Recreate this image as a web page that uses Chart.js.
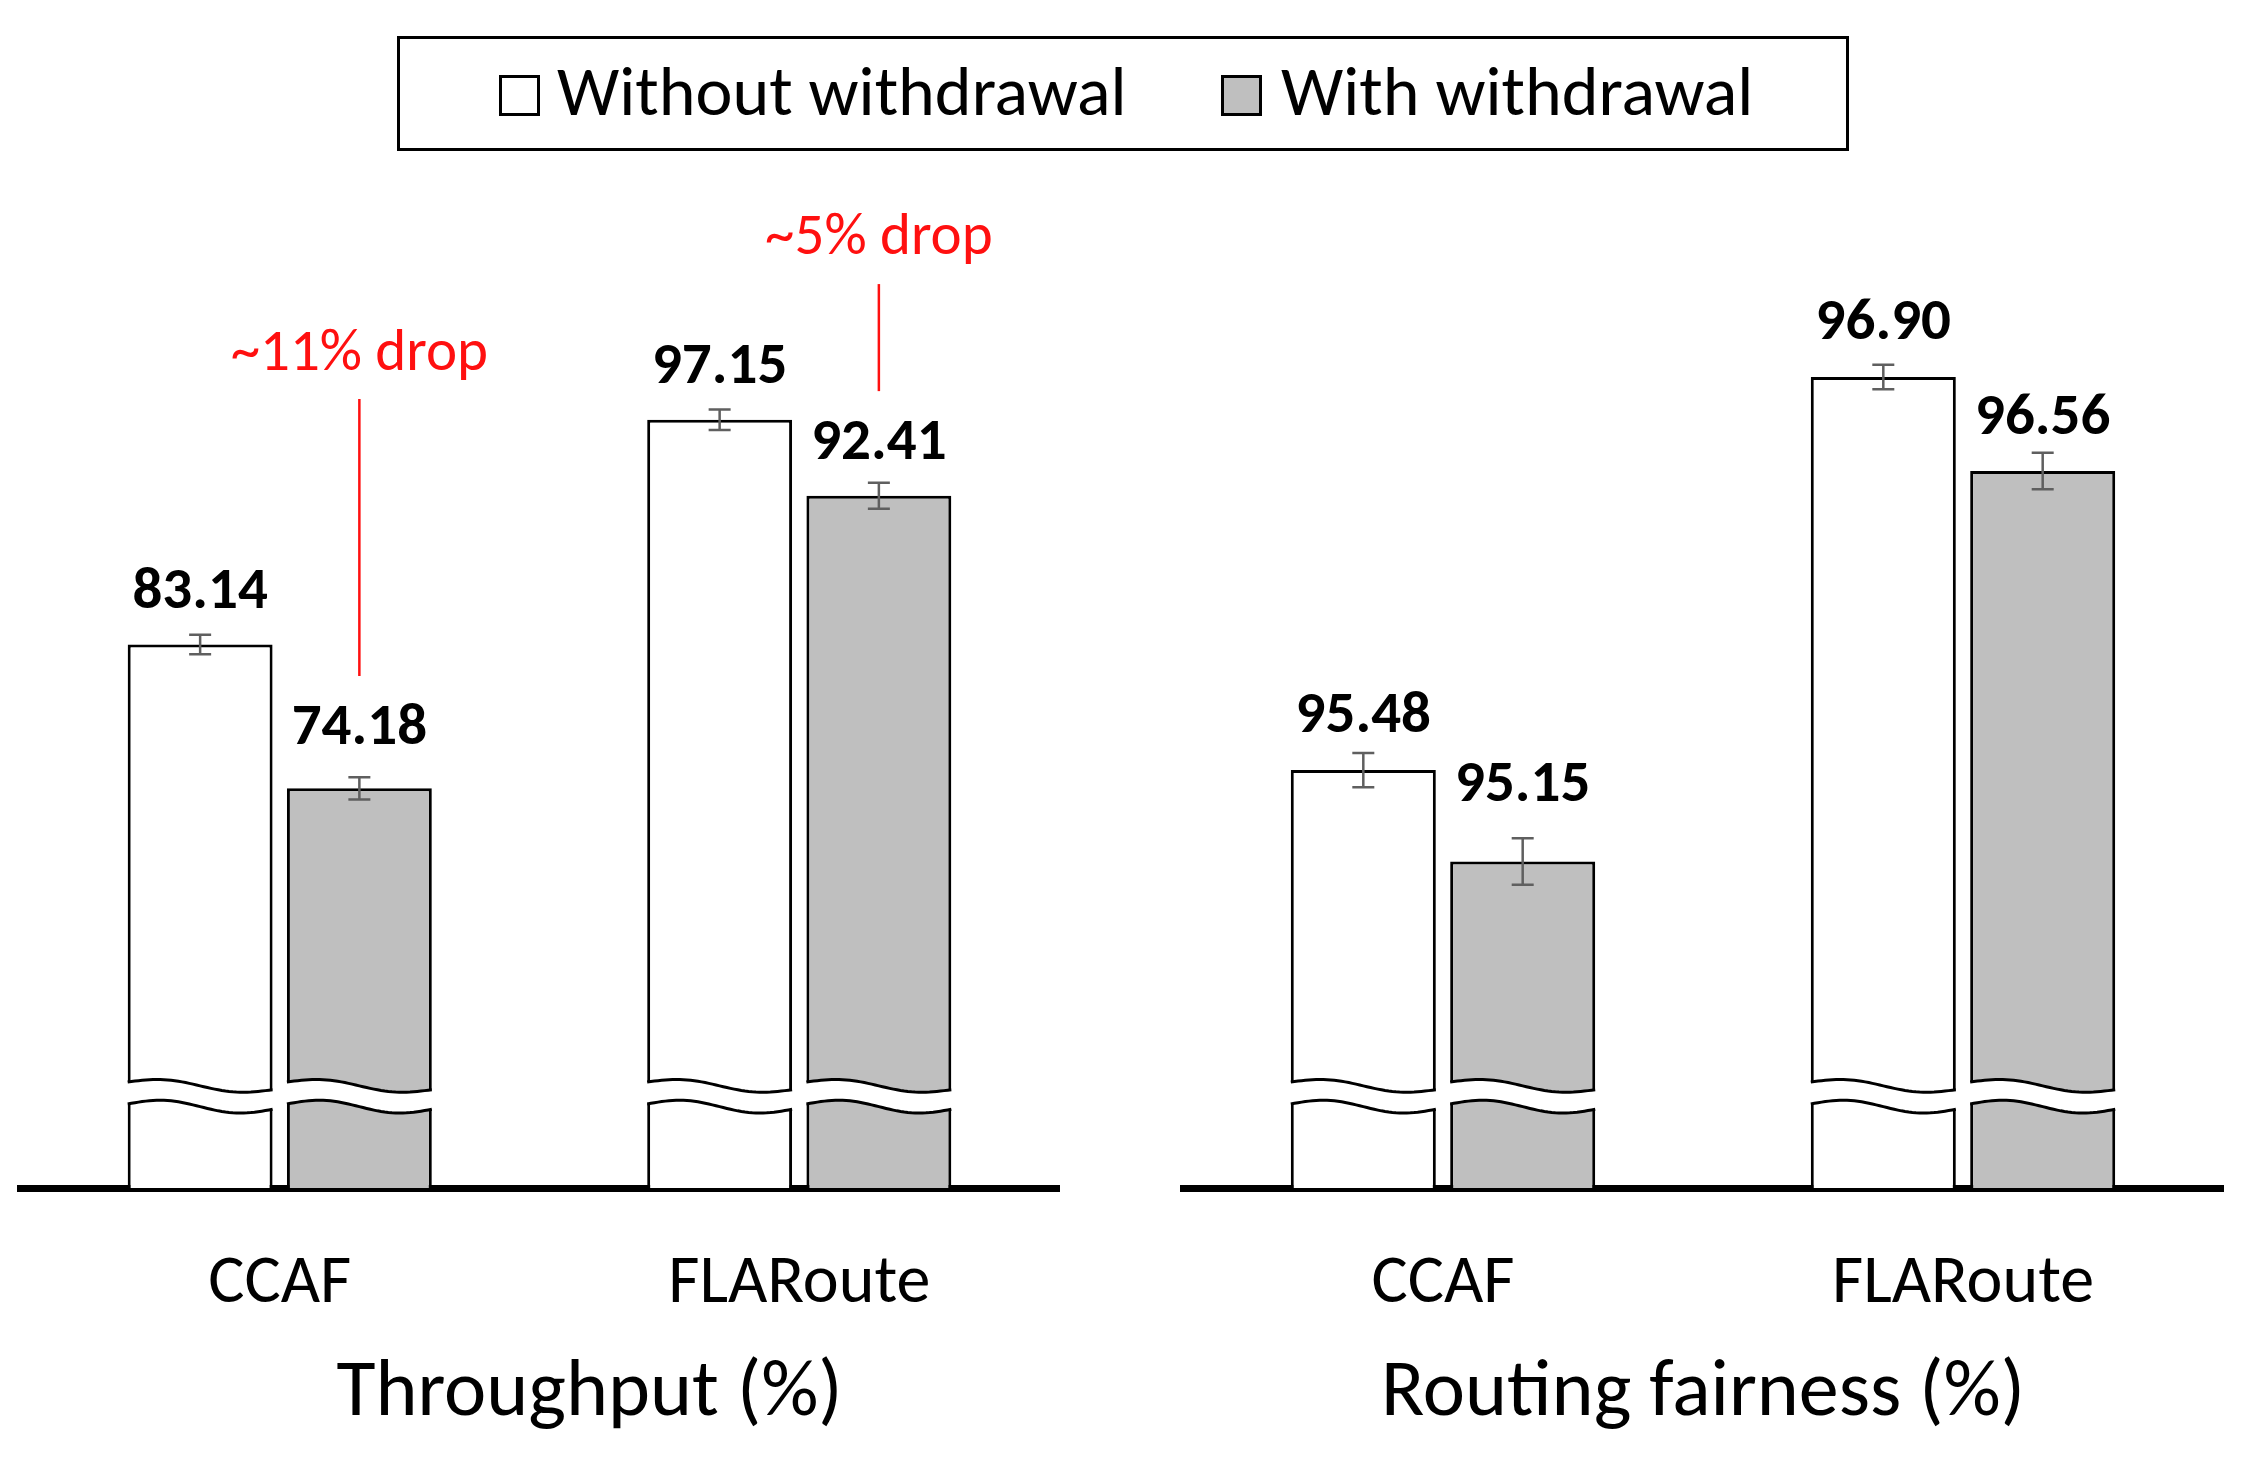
<!DOCTYPE html>
<html>
<head>
<meta charset="utf-8">
<script src="https://cdn.jsdelivr.net/npm/chart.js@4.4.1/dist/chart.umd.min.js"></script>
<style>
  html, body { margin: 0; padding: 0; background: #fff; }
  body { width: 2252px; height: 1458px; position: relative; overflow: hidden; font-family: Carlito, Lato, sans-serif; }
  canvas { position: absolute; top: 0; }
  #left { left: 0; }
  #right { left: 1126px; }
  #legend { position: absolute; left: 397px; top: 36px; width: 1446px; height: 109px; border: 3px solid #000; }
  #legend .key { position: absolute; top: 36px; width: 41px; height: 41px; box-sizing: border-box; border: 3px solid #000; }
  #legend .lbl { position: absolute; top: -2px; line-height: 109px; font-size: 70px; color: #000; white-space: nowrap; }
</style>
</head>
<body>
<canvas id="left" width="1126" height="1458"></canvas>
<canvas id="right" width="1126" height="1458"></canvas>
<div id="legend"></div>
<script>
// data
const categories = ['CCAF', 'FLARoute']
const seriesNames = ['Without withdrawal', 'With withdrawal']

const throughputWithout = [83.14, 97.15]
const throughputWith = [74.18, 92.41]
const throughputErrWithout = [0.61, 0.64]
const throughputErrWith = [0.70, 0.81]

const fairnessWithout = [95.48, 96.90]
const fairnessWith = [95.15, 96.56]
const fairnessErrWithout = [0.062, 0.044]
const fairnessErrWith = [0.084, 0.066]

const panelTitles = ['Throughput (%)', 'Routing fairness (%)']

const FONT = 'Carlito, Lato, sans-serif'
const fills = ['#ffffff', '#bfbfbf']
const red = '#ff1010'

Chart.defaults.font.family = FONT
Chart.defaults.color = '#000'

// legend (html)
const legendEl = document.getElementById('legend')
const legendSpots = [[99, 157], [821, 881]]
seriesNames.forEach((name, i) => {
    const key = document.createElement('span')
    key.className = 'key'
    key.style.left = legendSpots[i][0] + 'px'
    key.style.background = fills[i]
    legendEl.appendChild(key)
    const lbl = document.createElement('span')
    lbl.className = 'lbl'
    lbl.style.left = legendSpots[i][1] + 'px'
    lbl.textContent = name
    legendEl.appendChild(lbl)
})

// white wavy gap across every bar, near the axis
const brokenBars = {
    id: 'brokenBars',
    afterDatasetsDraw(chart) {
        const ctx = chart.ctx
        const base = chart.chartArea.bottom
        chart.data.datasets.forEach((ds, di) => {
            chart.getDatasetMeta(di).data.forEach(bar => {
                const p = bar.getProps(['x', 'width'], true)
                const l = p.x - p.width / 2
                const r = p.x + p.width / 2
                const upper = t => base - 106 + 7.7 * t - 4.25 * Math.sin(2 * Math.PI * t)
                const lower = t => base - 84 + 5.3 * t - 5 * Math.sin(2 * Math.PI * t)
                const n = 40
                ctx.save()
                ctx.beginPath()
                ctx.moveTo(l - 2, upper(0))
                for (let i = 0; i <= n; i++) ctx.lineTo(l + (r - l) * i / n, upper(i / n))
                ctx.lineTo(r + 2, upper(1))
                ctx.lineTo(r + 2, lower(1))
                for (let i = n; i >= 0; i--) ctx.lineTo(l + (r - l) * i / n, lower(i / n))
                ctx.lineTo(l - 2, lower(0))
                ctx.closePath()
                ctx.fillStyle = '#fff'
                ctx.fill()
                ctx.strokeStyle = '#000'
                ctx.lineWidth = 3
                for (const curve of [upper, lower]) {
                    ctx.beginPath()
                    ctx.moveTo(l, curve(0))
                    for (let i = 1; i <= n; i++) ctx.lineTo(l + (r - l) * i / n, curve(i / n))
                    ctx.stroke()
                }
                ctx.restore()
            })
        })
    }
}

const errorBars = {
    id: 'errorBars',
    afterDatasetsDraw(chart) {
        const ctx = chart.ctx
        const yScale = chart.scales.y
        chart.data.datasets.forEach((ds, di) => {
            chart.getDatasetMeta(di).data.forEach((bar, i) => {
                const v = ds.data[i], e = ds.errors[i]
                const y1 = yScale.getPixelForValue(v + e)
                const y2 = yScale.getPixelForValue(v - e)
                ctx.save()
                ctx.strokeStyle = '#5f5f5f'
                ctx.lineWidth = 2.5
                ctx.beginPath()
                ctx.moveTo(bar.x, y1); ctx.lineTo(bar.x, y2)
                ctx.moveTo(bar.x - 11, y1); ctx.lineTo(bar.x + 11, y1)
                ctx.moveTo(bar.x - 11, y2); ctx.lineTo(bar.x + 11, y2)
                ctx.stroke()
                ctx.restore()
            })
        })
    }
}

const valueLabels = {
    id: 'valueLabels',
    afterDatasetsDraw(chart, args, opts) {
        const ctx = chart.ctx
        ctx.save()
        ctx.font = 'bold 59px ' + FONT
        ctx.fillStyle = '#000'
        ctx.textAlign = 'center'
        ctx.textBaseline = 'alphabetic'
        chart.data.datasets.forEach((ds, di) => {
            chart.getDatasetMeta(di).data.forEach((bar, i) => {
                ctx.fillText(ds.data[i].toFixed(2), bar.x, bar.y - opts.lift[di][i])
            })
        })
        ctx.restore()
    }
}

const dropNotes = {
    id: 'dropNotes',
    afterDatasetsDraw(chart, args, opts) {
        const ctx = chart.ctx
        const yScale = chart.scales.y
        ctx.save()
        ctx.strokeStyle = red
        ctx.fillStyle = red
        ctx.lineWidth = 2.5
        ctx.font = '59px ' + FONT
        ctx.textAlign = 'center'
        opts.notes.forEach(n => {
            const bar = chart.getDatasetMeta(n.dataset).data[n.index]
            ctx.beginPath()
            ctx.moveTo(bar.x, yScale.getPixelForValue(n.lineFrom))
            ctx.lineTo(bar.x, yScale.getPixelForValue(n.lineTo))
            ctx.stroke()
            ctx.fillText(n.text, bar.x, yScale.getPixelForValue(n.textAt))
        })
        ctx.restore()
    }
}

const panelTitle = {
    id: 'panelTitle',
    afterDraw(chart, args, opts) {
        const ctx = chart.ctx
        const a = chart.chartArea
        ctx.save()
        ctx.font = '80px ' + FONT
        ctx.fillStyle = '#000'
        ctx.textAlign = 'center'
        ctx.fillText(opts.text, (a.left + a.right) / 2 + opts.shift, a.bottom + 227)
        ctx.restore()
    }
}

function drawPanel(id, without, withW, errWithout, errWith, yMin, yMax, pad, title, lift, notes) {
    const ctx = document.getElementById(id).getContext('2d')
    return new Chart(ctx, {
        type: 'bar',
        data: {
            labels: categories,
            datasets: [without, withW].map((vals, i) => ({
                label: seriesNames[i],
                data: vals,
                errors: i === 0 ? errWithout : errWith,
                backgroundColor: fills[i],
                borderColor: '#000',
                borderWidth: 3,
                borderSkipped: 'start',
                categoryPercentage: 0.613,
                barPercentage: 0.91
            }))
        },
        options: {
            responsive: false,
            animation: false,
            devicePixelRatio: 1,
            layout: { padding: { left: pad[0], right: pad[1], top: 0, bottom: 0 } },
            plugins: {
                legend: { display: false },
                tooltip: { enabled: false },
                valueLabels: { lift: lift },
                dropNotes: { notes: notes },
                panelTitle: { text: title.text, shift: title.shift }
            },
            scales: {
                x: {
                    z: 1,
                    grid: { display: false, drawTicks: false },
                    border: { display: true, color: '#000', width: 7 },
                    ticks: { font: { size: 68 }, color: '#000', padding: 56 },
                    afterFit(scale) { scale.height = 270 }
                },
                y: { display: false, min: yMin, max: yMax }
            }
        },
        plugins: [brokenBars, errorBars, valueLabels, dropNotes, panelTitle]
    })
}

drawPanel('left', throughputWithout, throughputWith, throughputErrWithout, throughputErrWith,
    49.28, 123.30, [20, 67], { text: panelTitles[0], shift: 50 },
    [[37, 37], [44, 37]],
    [
        { text: '~11% drop', dataset: 1, index: 0, textAt: 100.24, lineFrom: 98.44, lineTo: 81.18 },
        { text: '~5% drop', dataset: 1, index: 1, textAt: 107.47, lineFrom: 105.60, lineTo: 98.93 }
    ])

drawPanel('right', fairnessWithout, fairnessWith, fairnessErrWithout, fairnessErrWith,
    93.97, 98.262, [57, 29], { text: panelTitles[1], shift: 0 },
    [[38, 38], [60, 37]],
    [])
</script>
</body>
</html>
